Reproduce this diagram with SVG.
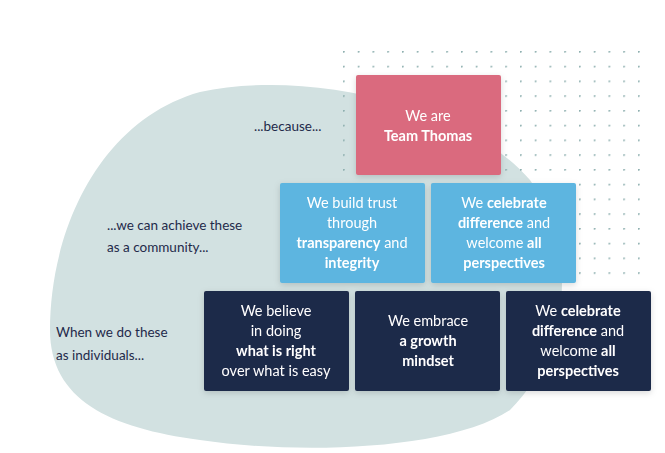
<svg xmlns="http://www.w3.org/2000/svg" width="665" height="453" viewBox="0 0 665 453">
<defs>
<pattern id="dots" x="343" y="51" width="14.75" height="14.75" patternUnits="userSpaceOnUse"><circle cx="0.7" cy="0.7" r="1.1" fill="#8fb0b0"/></pattern>
<filter id="sh" x="-10%" y="-10%" width="120%" height="130%"><feDropShadow dx="0" dy="2" stdDeviation="3" flood-color="#000" flood-opacity="0.15"/></filter>
</defs>
<style>
text{font-family:Lato,"Open Sans",sans-serif;font-size:14.5px;text-anchor:middle;fill:#fff}
.l{text-anchor:start;fill:#1f2a4a;font-size:13.5px}
b,.b{font-weight:bold}
.pink{fill:#da6a7e}.blue{fill:#5db5e0}.navy{fill:#1f2a4a}
</style>
<path d="M200,92 C300,70 460,100 530,180 C580,250 570,350 510,410 C450,450 300,455 200,440 C110,428 50,400 50,330 C50,230 100,120 200,92 Z" fill="#d2e1e1"/>
<rect x="341" y="49" width="300" height="232" fill="url(#dots)"/>
<text class="l" x="254" y="131">...because...</text>
<text class="l" x="107" y="230">...we can achieve these</text>
<text class="l" x="107" y="252">as a community...</text>
<text class="l" x="56" y="337">When we do these</text>
<text class="l" x="56" y="360">as individuals...</text>
<g id="n1" filter="url(#sh)"><rect class="pink" x="356" y="75" width="145" height="100" rx="2"/>
<text x="428" y="121">We are</text><text x="428" y="141" font-weight="bold">Team Thomas</text></g>
<g id="n2" filter="url(#sh)"><rect class="blue" x="280" y="183" width="145" height="100" rx="2"/>
<text x="352" y="208">We build trust</text><text x="352" y="228">through</text>
<text x="352" y="248"><tspan font-weight="bold">transparency</tspan> and</text><text x="352" y="268" font-weight="bold">integrity</text></g>
<g id="n3" filter="url(#sh)"><rect class="blue" x="431" y="183" width="145" height="100" rx="2"/>
<text x="504" y="208">We <tspan font-weight="bold">celebrate</tspan></text>
<text x="504" y="228"><tspan font-weight="bold">difference</tspan> and</text>
<text x="504" y="248">welcome <tspan font-weight="bold">all</tspan></text>
<text x="504" y="268" font-weight="bold">perspectives</text></g>
<g id="n4" filter="url(#sh)"><rect class="navy" x="204" y="291" width="145" height="100" rx="2"/>
<text x="276" y="316">We believe</text><text x="276" y="336">in doing</text>
<text x="276" y="356" font-weight="bold">what is right</text><text x="276" y="376">over what is easy</text></g>
<g id="n5" filter="url(#sh)"><rect class="navy" x="355" y="291" width="145" height="100" rx="2"/>
<text x="428" y="326">We embrace</text><text x="428" y="346" font-weight="bold">a growth</text>
<text x="428" y="366" font-weight="bold">mindset</text></g>
<g id="n6" filter="url(#sh)"><rect class="navy" x="506" y="291" width="145" height="100" rx="2"/>
<text x="578" y="316">We <tspan font-weight="bold">celebrate</tspan></text>
<text x="578" y="336"><tspan font-weight="bold">difference</tspan> and</text>
<text x="578" y="356">welcome <tspan font-weight="bold">all</tspan></text>
<text x="578" y="376" font-weight="bold">perspectives</text></g>
<g id="connectors"/>
</svg>
